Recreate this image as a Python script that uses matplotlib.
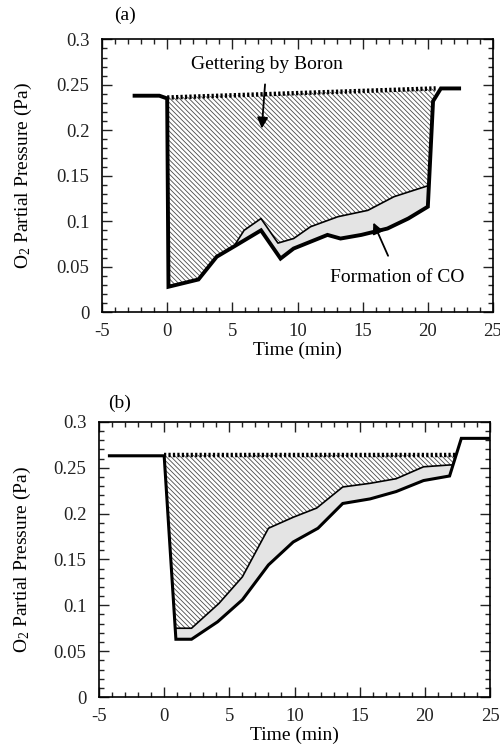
import numpy as np
import matplotlib
matplotlib.use("Agg")
import matplotlib.pyplot as plt
from matplotlib.ticker import MultipleLocator, FuncFormatter

plt.rcParams["font.family"] = ["Liberation Serif", "DejaVu Serif"]
plt.rcParams["mathtext.fontset"] = "custom"
plt.rcParams["mathtext.rm"] = "Liberation Serif"
plt.rcParams["mathtext.it"] = "Liberation Serif:italic"
plt.rcParams["axes.unicode_minus"] = False
plt.rcParams["hatch.linewidth"] = 0.6

# panel (a): measured O2 pressure (thick), pressure without CO formation (thin),
# and pressure without gettering (dotted)
a_thick_x = [-2.5, -0.6, 0.0, 0.1, 2.4, 3.8, 5.1, 7.2, 8.7, 9.7, 12.3, 13.3, 14.9, 16.9, 18.5, 20.0, 20.4, 21.0, 22.4]
a_thick_y = [0.238, 0.238, 0.235, 0.028, 0.036, 0.061, 0.072, 0.090, 0.059, 0.070, 0.085, 0.081, 0.085, 0.092, 0.103, 0.116, 0.232, 0.246, 0.246]
a_thin_x = [5.1, 5.9, 7.2, 8.5, 9.7, 11.0, 13.1, 15.4, 17.4, 20.0]
a_thin_y = [0.072, 0.090, 0.103, 0.076, 0.081, 0.094, 0.105, 0.112, 0.127, 0.139]
a_dot_x = [0.0, 20.6]
a_dot_y = [0.236, 0.246]

# panel (b)
b_thick_x = [-4.2, 0.0, 0.9, 2.1, 4.1, 6.0, 8.0, 9.9, 11.8, 13.7, 15.8, 17.8, 19.9, 21.9, 22.8, 25.0]
b_thick_y = [0.263, 0.263, 0.063, 0.063, 0.082, 0.106, 0.144, 0.169, 0.184, 0.211, 0.216, 0.224, 0.236, 0.241, 0.282, 0.282]
b_thin_x = [0.9, 2.1, 4.2, 6.0, 8.0, 9.9, 11.7, 13.7, 15.8, 17.8, 19.9, 21.9, 22.15]
b_thin_y = [0.075, 0.075, 0.102, 0.131, 0.184, 0.196, 0.206, 0.229, 0.233, 0.238, 0.251, 0.253, 0.253]
b_dot_x = [0.0, 22.4]
b_dot_y = [0.264, 0.264]


def style_axes(ax, label_x):
    ax.set_xlim(-5, 25)
    ax.set_ylim(0, 0.3)
    ax.xaxis.set_major_locator(MultipleLocator(5))
    ax.xaxis.set_minor_locator(MultipleLocator(1))
    ax.yaxis.set_major_locator(MultipleLocator(0.05))
    ax.yaxis.set_minor_locator(MultipleLocator(0.01))
    ax.yaxis.set_major_formatter(FuncFormatter(lambda v, p: "%g" % round(v, 3)))
    ax.tick_params(which="both", direction="in", top=True, right=True,
                   labelsize=13.5, colors="#222222", width=1.0)
    ax.tick_params(which="major", length=7)
    ax.tick_params(which="minor", length=3.5)
    ax.tick_params(axis="x", which="major", pad=8)
    ax.tick_params(axis="y", which="major", pad=9)
    for s in ax.spines.values():
        s.set_linewidth(1.2)
    ax.set_xlabel("Time (min)", fontsize=14, labelpad=1)
    ax.set_ylabel(r"O$_2$ Partial Pressure (Pa)", fontsize=14)
    ax.yaxis.set_label_coords(label_x, 0.5)


def draw_panel(ax, tx, ty, nx, ny, dx, dy, i0, i1, j_end, lw):
    tx = np.array(tx); ty = np.array(ty)
    nx = np.array(nx); ny = np.array(ny)
    # hatched region: dotted line down to the thin curve
    hx = np.concatenate([dx, [tx[j_end]], nx[::-1], tx[i0:i1][::-1]])
    hy = np.concatenate([dy, [ty[j_end]], ny[::-1], ty[i0:i1][::-1]])
    ax.fill(hx, hy, facecolor="white", edgecolor="#4a4a4a", hatch="\\\\\\\\\\\\\\", lw=0)
    # gray region: thin curve down to thick curve
    k0 = list(tx).index(nx[0])
    k1 = list(tx).index(nx[-1]) if nx[-1] in tx else j_end - 1
    gx = np.concatenate([nx, tx[k0:k1 + 1][::-1]])
    gy = np.concatenate([ny, ty[k0:k1 + 1][::-1]])
    ax.fill(gx, gy, facecolor="#e4e4e4", edgecolor="none")
    ax.plot(nx, ny, color="black", lw=1.2)
    ax.plot(dx, dy, color="black", lw=3.2, linestyle=(0, (0.5, 0.5)))
    ax.plot(tx, ty, color="black", lw=lw, solid_joinstyle="miter")


fig = plt.figure(figsize=(5.0, 7.56), dpi=100)
ax1 = fig.add_axes([0.204, 0.587, 0.782, 0.361])
ax2 = fig.add_axes([0.198, 0.078, 0.782, 0.364])

# hatch closes along thick curve from the bottom of the drop to the start of the thin curve
draw_panel(ax1, a_thick_x, a_thick_y, a_thin_x, a_thin_y, a_dot_x, a_dot_y, 2, 6, 16, 2.8)
draw_panel(ax2, b_thick_x, b_thick_y, b_thin_x, b_thin_y, b_dot_x, b_dot_y, 1, 2, 14, 2.2)

style_axes(ax1, -0.175)
style_axes(ax2, -0.168)

ax1.annotate("Gettering by Boron", xy=(7.26, 0.202), xytext=(7.62, 0.272),
             fontsize=14, ha="center", va="center",
             arrowprops=dict(arrowstyle="-|>", color="black", lw=1.3,
                             mutation_scale=16, shrinkA=6, shrinkB=0))
ax1.annotate("Formation of CO", xy=(15.82, 0.0985), xytext=(17.68, 0.0385),
             fontsize=14, ha="center", va="center",
             arrowprops=dict(arrowstyle="-|>", color="black", lw=1.3,
                             mutation_scale=16, shrinkA=8, shrinkB=0))

ax1.text(0.059, 1.089, "(a)", transform=ax1.transAxes, fontsize=14,
         ha="center", va="center")
ax2.text(0.053, 1.067, "(b)", transform=ax2.transAxes, fontsize=14,
         ha="center", va="center")

fig.savefig("out.png", dpi=100)
